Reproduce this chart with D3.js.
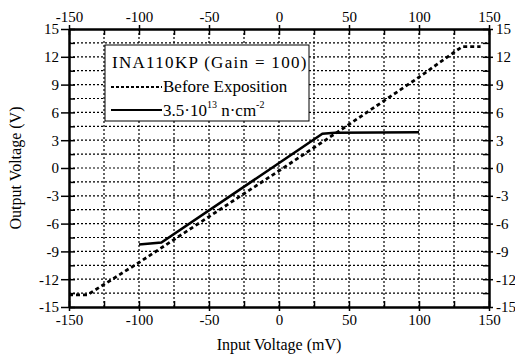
<!DOCTYPE html>
<html>
  <head>
    <meta charset="utf-8">
    <title>INA110KP</title>
    <style media="screen">
    body{margin: 0; background: #fff}
    </style>
  </head>
  <body>
    <script src="https://d3js.org/d3.v7.min.js"></script>
    <script type="text/javascript">
      var beforeX = [-150, -137, -100, 0, 50, 100, 127, 131, 144]
      var beforeY = [-13.7, -13.7, -10.2, -0.3, 4.7, 9.8, 12.7, 13.1, 13.1]
      var afterX = [-100, -84, 31, 40, 100]
      var afterY = [-8.25, -8.05, 3.7, 3.8, 3.85]
      var xTicks = [-150, -100, -50, 0, 50, 100, 150]
      var yTicks = [-15, -12, -9, -6, -3, 0, 3, 6, 9, 12, 15]
      var xGrid = d3.range(-150, 151, 25)
      var yGrid = d3.range(-15, 15.1, 1.5)

      var w = 515, h = 358
      var m = {l: 69, r: 26, t: 29, b: 51}
      var serif = '"Liberation Serif"'

      var x = d3.scaleLinear().domain([-150, 150]).range([m.l, w - m.r])
      var y = d3.scaleLinear().domain([-15, 15]).range([h - m.b, m.t])

      var svg = d3.select('body').append('svg')
        .attr('width', w)
        .attr('height', h)

      // dotted grid
      svg.append('g').selectAll('line').data(xGrid.slice(1, -1)).enter().append('line')
        .attr('x1', function(d){ return x(d) }).attr('x2', function(d){ return x(d) })
        .attr('y1', y(15)).attr('y2', y(-15))
        .attr('stroke', '#000').attr('stroke-width', 1.2).attr('stroke-dasharray', '2,2')
      svg.append('g').selectAll('line').data(yGrid.slice(1, -1)).enter().append('line')
        .attr('y1', function(d){ return y(d) }).attr('y2', function(d){ return y(d) })
        .attr('x1', x(-150)).attr('x2', x(150))
        .attr('stroke', '#000').attr('stroke-width', 1.2).attr('stroke-dasharray', '2,2')

      function styleAxis(g){
        g.attr('font-family', 'Liberation Serif').attr('font-size', 15)
        g.selectAll('text').style('font-size', '15px').style('font-family', serif).attr('fill', '#000')
        g.select('.domain').attr('stroke-width', 2)
        g.selectAll('line').attr('stroke-width', 1.5)
      }

      // minor ticks (inward)
      svg.append('g').attr('transform', 'translate(0,' + y(-15) + ')')
        .call(d3.axisBottom(x).tickValues(xGrid).tickSize(-6).tickFormat('').tickSizeOuter(0))
        .call(styleAxis)
      svg.append('g').attr('transform', 'translate(0,' + y(15) + ')')
        .call(d3.axisTop(x).tickValues(xGrid).tickSize(-6).tickFormat('').tickSizeOuter(0))
        .call(styleAxis)
      svg.append('g').attr('transform', 'translate(' + x(-150) + ',0)')
        .call(d3.axisLeft(y).tickValues(yGrid).tickSize(-6).tickFormat('').tickSizeOuter(0))
        .call(styleAxis)
      svg.append('g').attr('transform', 'translate(' + x(150) + ',0)')
        .call(d3.axisRight(y).tickValues(yGrid).tickSize(-6).tickFormat('').tickSizeOuter(0))
        .call(styleAxis)

      // labelled axes
      var fmt = function(d){ return String(d) }
      svg.append('g').attr('transform', 'translate(0,' + y(-15) + ')')
        .call(d3.axisBottom(x).tickValues(xTicks).tickSize(4).tickPadding(3).tickFormat(fmt).tickSizeOuter(0))
        .call(styleAxis)
      svg.append('g').attr('transform', 'translate(0,' + y(15) + ')')
        .call(d3.axisTop(x).tickValues(xTicks).tickSize(4).tickPadding(3).tickFormat(fmt).tickSizeOuter(0))
        .call(styleAxis)
      svg.append('g').attr('transform', 'translate(' + x(-150) + ',0)')
        .call(d3.axisLeft(y).tickValues(yTicks).tickSize(8).tickPadding(2).tickFormat(fmt).tickSizeOuter(0))
        .call(styleAxis)
      svg.append('g').attr('transform', 'translate(' + x(150) + ',0)')
        .call(d3.axisRight(y).tickValues(yTicks).tickSize(4).tickPadding(3).tickFormat(fmt).tickSizeOuter(0))
        .call(styleAxis)

      var line = d3.line()
        .x(function(d){ return x(d[0]) })
        .y(function(d){ return y(d[1]) })

      svg.append('path')
        .datum(d3.zip(beforeX, beforeY))
        .attr('d', line)
        .attr('fill', 'none').attr('stroke', '#000')
        .attr('stroke-width', 2.8).attr('stroke-dasharray', '4,3')

      svg.append('path')
        .datum(d3.zip(afterX, afterY))
        .attr('d', line)
        .attr('fill', 'none').attr('stroke', '#000')
        .attr('stroke-width', 2.5)

      // legend
      var lg = svg.append('g')
      lg.append('rect')
        .attr('x', 105).attr('y', 45).attr('width', 204).attr('height', 76)
        .attr('fill', '#fff').attr('stroke', '#000').attr('stroke-width', 1)
      lg.append('text').attr('x', 112).attr('y', 68)
        .style('font-family', serif).style('font-size', '17px').style('letter-spacing', '1.3px')
        .text('INA110KP (Gain = 100)')
      lg.append('line').attr('x1', 111).attr('x2', 162).attr('y1', 87).attr('y2', 87)
        .attr('stroke', '#000').attr('stroke-width', 2).attr('stroke-dasharray', '3,2')
      lg.append('text').attr('x', 163).attr('y', 92)
        .style('font-family', serif).style('font-size', '17px')
        .text('Before Exposition')
      lg.append('line').attr('x1', 111).attr('x2', 162).attr('y1', 110).attr('y2', 110)
        .attr('stroke', '#000').attr('stroke-width', 2)
      var t3 = lg.append('text').attr('x', 163).attr('y', 116)
        .style('font-family', serif).style('font-size', '17px')
      t3.append('tspan').text('3.5\u00b710')
      t3.append('tspan').attr('dy', -8).style('font-size', '10px').text('13')
      t3.append('tspan').attr('dy', 8).text(' n\u00b7cm')
      t3.append('tspan').attr('dy', -8).style('font-size', '10px').text('-2')

      // axis titles
      svg.append('text').attr('x', x(0)).attr('y', 350)
        .attr('text-anchor', 'middle').style('font-family', serif).style('font-size', '16px')
        .text('Input Voltage (mV)')
      svg.append('text')
        .attr('transform', 'translate(21,' + y(0) + ') rotate(-90)')
        .attr('text-anchor', 'middle').style('font-family', serif).style('font-size', '16px')
        .text('Output Voltage (V)')
    </script>
  </body>
</html>
